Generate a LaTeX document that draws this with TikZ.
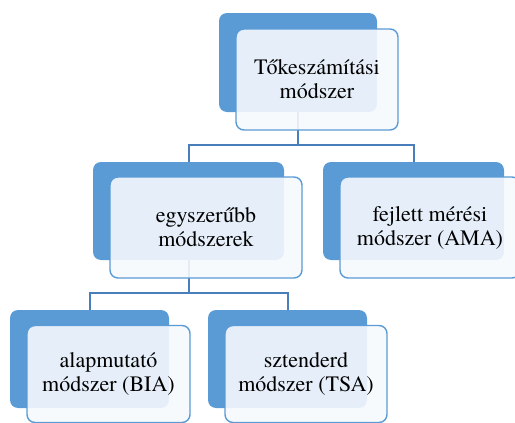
\documentclass[tikz,border=0pt]{standalone}
\usepackage{fontspec}
\setmainfont{TeX Gyre Termes}
\definecolor{accent}{RGB}{91,155,213}
\definecolor{linkblue}{RGB}{74,126,187}
\definecolor{paper}{RGB}{246,249,253}
\begin{document}
\begin{tikzpicture}[x=1pt,y=-1pt,
  backbox/.style={draw=none,fill=accent,rounded corners=8pt,inner sep=0pt},
  frontbox/.style={draw=accent,line width=1.4pt,fill=paper,fill opacity=0.9,text opacity=1,
    rounded corners=8pt,inner sep=4pt,align=center,text=black,
    font=\fontsize{22}{24}\selectfont},
  conn/.style={draw=linkblue,line width=2pt}]
\useasboundingbox (0,0) rectangle (515,423);

% coloured back plates
\node[backbox,minimum width=158pt,minimum height=99pt] (b1) at (298,62.5) {};
\node[backbox,minimum width=191pt,minimum height=98pt] (b2) at (188.5,211) {};
\node[backbox,minimum width=181pt,minimum height=98pt] (b3) at (413.5,211) {};
\node[backbox,minimum width=159pt,minimum height=98pt] (b4) at (89.5,359) {};
\node[backbox,minimum width=159pt,minimum height=98pt] (b5) at (287.5,359) {};

% connectors between the plates
\coordinate (j1) at (298,145);
\coordinate (j2) at (188.5,293);
\draw[conn] (b1.south) -- (j1) -| (b2.north);
\draw[conn] (j1) -| (b3.north);
\draw[conn] (b2.south) -- (j2) -| (b4.north);
\draw[conn] (j2) -| (b5.north);

% text cards
\node[frontbox,minimum width=162pt,minimum height=101pt] (t1) at (317,79.5) {Tőkeszámítási\\módszer};
\node[frontbox,minimum width=192pt,minimum height=101pt] (t2) at (206,227.5) {egyszerűbb\\módszerek};
\node[frontbox,minimum width=180pt,minimum height=101pt] (t3) at (430,227.5) {fejlett mérési\\módszer (AMA)};
\node[frontbox,minimum width=163pt,minimum height=97pt] (t4) at (108.5,374) {alapmutató\\módszer (BIA)};
\node[frontbox,minimum width=162pt,minimum height=97pt] (t5) at (306,374) {sztenderd\\módszer (TSA)};
\end{tikzpicture}
\end{document}
